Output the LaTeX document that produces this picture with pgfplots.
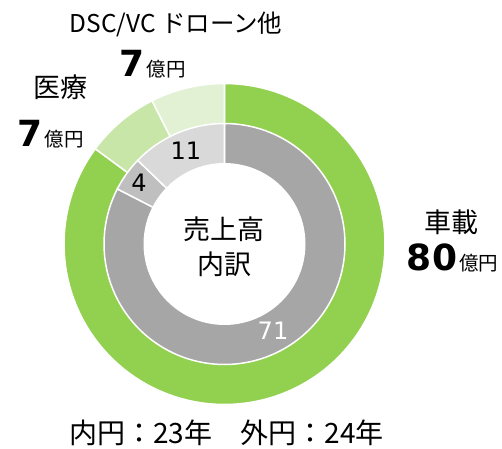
\documentclass[border=0pt]{standalone}
\usepackage{pgfplots}
\usepackage{pgfplotstable}
\pgfplotsset{compat=1.18}
\usepackage{fontspec}
\setmainfont{Noto Sans CJK JP}
\newfontfamily\dv{DejaVu Sans}
\definecolor{cCar}{HTML}{92D050}
\definecolor{cMed}{HTML}{C8E6A7}
\definecolor{cDsc}{HTML}{E2F1D4}
\definecolor{gA}{HTML}{A6A6A6}
\definecolor{gB}{HTML}{BFBFBF}
\definecolor{gC}{HTML}{D9D9D9}

% outer ring: 24 (車載, 医療, DSC/VC ドローン他), inner ring: 23
\pgfplotstableread{
label value
car 80
med 7
dsc 7
}\outerdata
\pgfplotstableread{
label value
car 71
med 4
dsc 11
}\innerdata

\newcommand\getval[3]{\pgfplotstablegetelem{#2}{value}\of#1\global\let#3\pgfplotsretval}

\begin{document}
\begin{tikzpicture}
\getval\outerdata{0}\oA
\getval\outerdata{1}\oB
\getval\outerdata{2}\oC
\getval\innerdata{0}\iA
\getval\innerdata{1}\iB
\getval\innerdata{2}\iC
\pgfmathsetmacro\oT{\oA+\oB+\oC}
\pgfmathsetmacro\oa{90-\oA/\oT*360}
\pgfmathsetmacro\ob{\oa-\oB/\oT*360}
\pgfmathsetmacro\oc{\ob-\oC/\oT*360}
\pgfmathsetmacro\iT{\iA+\iB+\iC}
\pgfmathsetmacro\ia{90-\iA/\iT*360}
\pgfmathsetmacro\ib{\ia-\iB/\iT*360}
\pgfmathsetmacro\ic{\ib-\iC/\iT*360}
\useasboundingbox (0,0) rectangle (502pt,448pt);
\begin{axis}[
  hide axis, clip=false,
  x=1pt, y=1pt,
  xmin=-170, xmax=170, ymin=-170, ymax=170,
  at={(224.5pt,204pt)}, anchor=center,
  samples=120,
]
% outer ring
\addplot[fill=cCar, draw=white, line width=1.5pt, domain=\oa:90] ({160.5*cos(x)},{160.5*sin(x)}) -- (0,0) -- cycle;
\addplot[fill=cMed, draw=white, line width=1.5pt, domain=\ob:\oa] ({160.5*cos(x)},{160.5*sin(x)}) -- (0,0) -- cycle;
\addplot[fill=cDsc, draw=white, line width=1.5pt, domain=\oc:\ob] ({160.5*cos(x)},{160.5*sin(x)}) -- (0,0) -- cycle;
% inner ring
\addplot[fill=gA, draw=white, line width=1.5pt, domain=\ia:90] ({120.5*cos(x)},{120.5*sin(x)}) -- (0,0) -- cycle;
\addplot[fill=gB, draw=white, line width=1.5pt, domain=\ib:\ia] ({120.5*cos(x)},{120.5*sin(x)}) -- (0,0) -- cycle;
\addplot[fill=gC, draw=white, line width=1.5pt, domain=\ic:\ib] ({120.5*cos(x)},{120.5*sin(x)}) -- (0,0) -- cycle;
% hole
\addplot[fill=white, draw=none, domain=0:360] ({81*cos(x)},{81*sin(x)}) -- cycle;
\end{axis}

\node[font=\fontsize{24.5}{28}\selectfont] at (176pt,424pt) {DSC/VC ドローン他};
\node[anchor=base, inner sep=0pt] at (152.5pt,371pt) {{\dv\bfseries\fontsize{36}{36}\selectfont 7}\hspace{2pt}{\fontsize{19.5}{20}\selectfont 億円}};
\node[font=\fontsize{27}{30}\selectfont] at (60pt,361pt) {医療};
\node[anchor=base, inner sep=0pt] at (50.5pt,302pt) {{\dv\bfseries\fontsize{36}{36}\selectfont 7}\hspace{2pt}{\fontsize{19.5}{20}\selectfont 億円}};
\node[font=\fontsize{27}{30}\selectfont] at (451pt,226pt) {車載};
\node[anchor=base, inner sep=0pt] at (452.5pt,178pt) {{\dv\bfseries\fontsize{36}{36}\selectfont 80}\hspace{2pt}{\fontsize{19.5}{20}\selectfont 億円}};
\node[font=\fontsize{27}{35}\selectfont, align=center] at (224pt,201pt) {売上高\\内訳};
\node[font=\dv\fontsize{24}{28}\selectfont, text=white] at (273pt,117pt) {71};
\node[font=\dv\fontsize{24}{28}\selectfont] at (186pt,297pt) {11};
\node[font=\dv\fontsize{24}{28}\selectfont] at (139pt,265pt) {4};
\node[anchor=base, inner sep=0pt, font=\fontsize{28}{30}\selectfont] at (226.5pt,5pt) {内円：23年　外円：24年};
\end{tikzpicture}
\end{document}
